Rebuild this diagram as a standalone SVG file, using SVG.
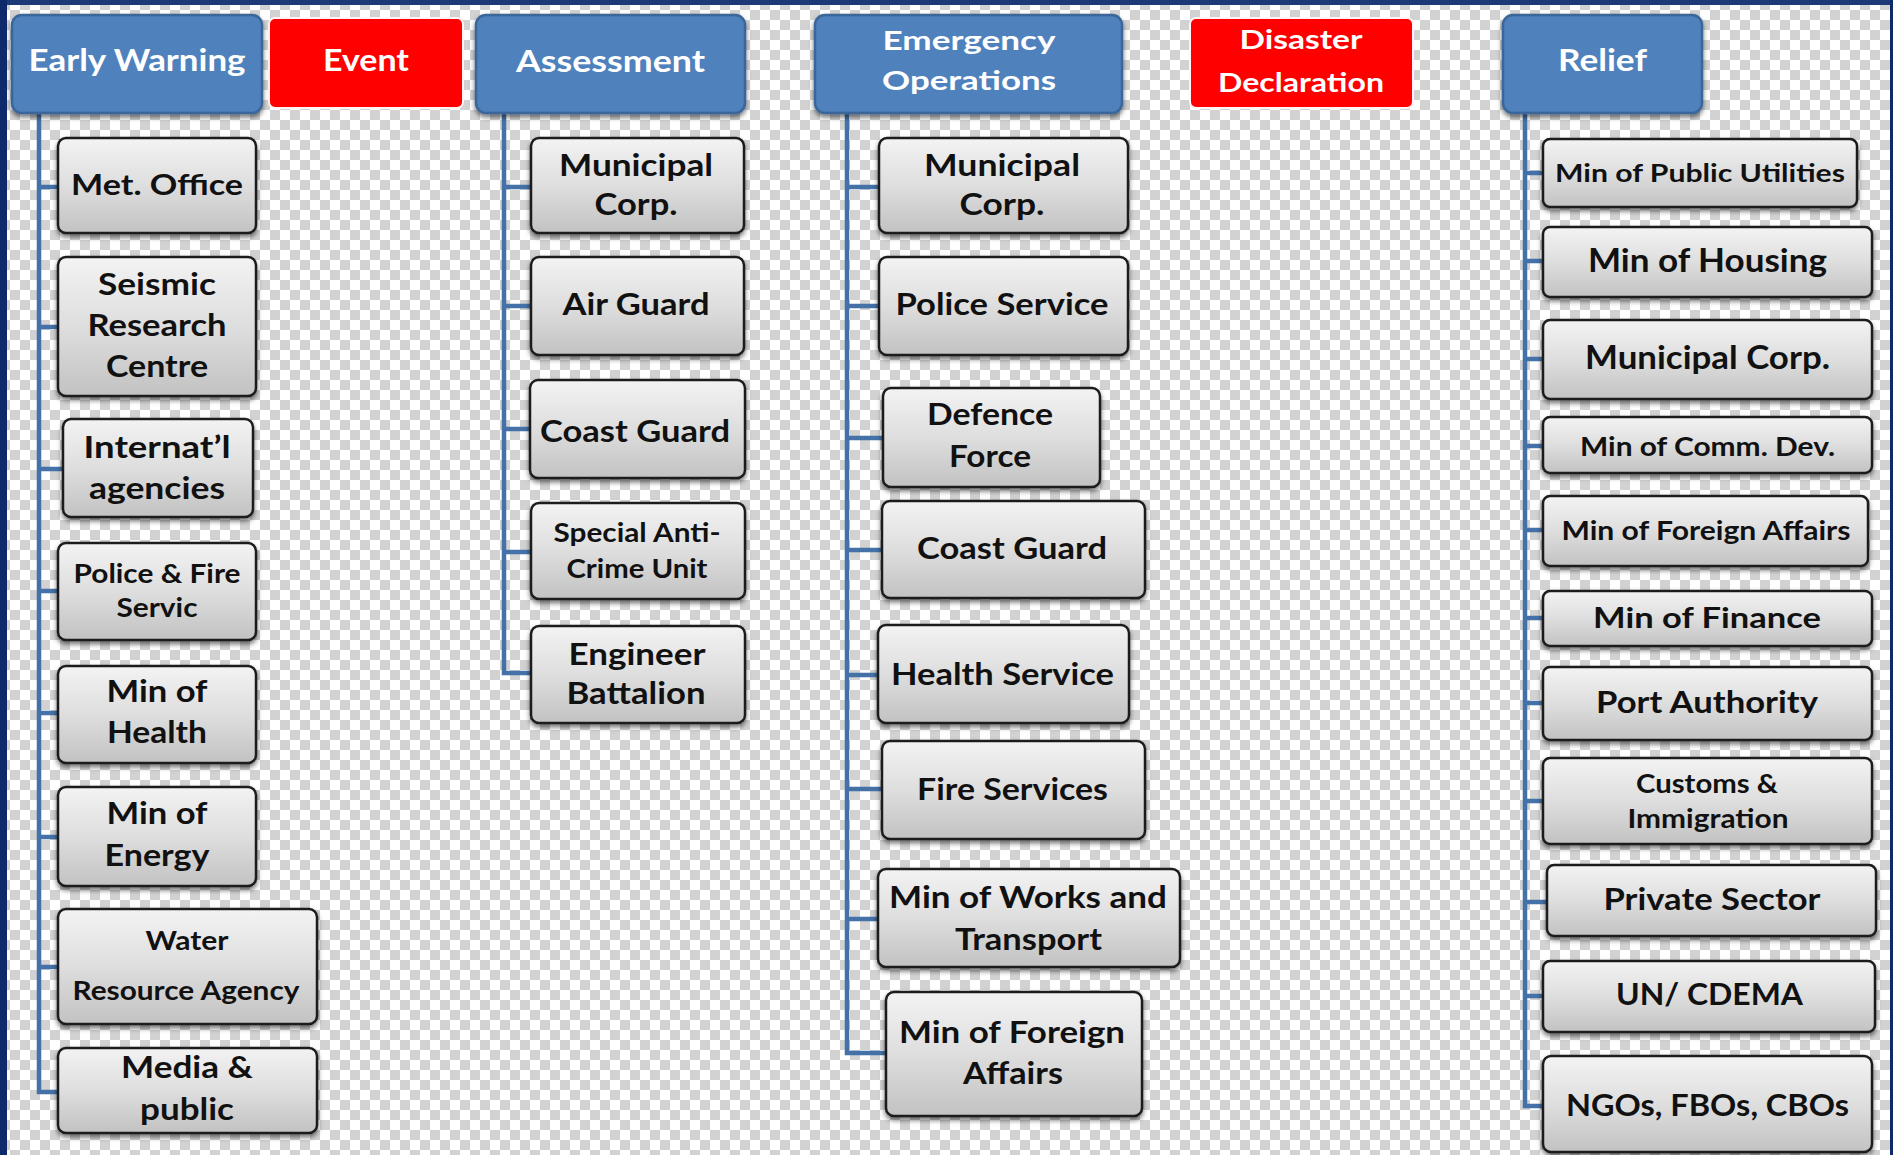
<svg xmlns="http://www.w3.org/2000/svg" width="1893" height="1155" viewBox="0 0 1893 1155">
<defs>
<pattern id="chk" width="20" height="20" patternUnits="userSpaceOnUse">
<rect width="20" height="20" fill="#ffffff"/>
<rect width="10" height="10" fill="#d2d2d2"/>
<rect x="10" y="10" width="10" height="10" fill="#d2d2d2"/>
</pattern>
<linearGradient id="g" x1="0" y1="0" x2="0" y2="1">
<stop offset="0" stop-color="#f3f3f3"/>
<stop offset="0.5" stop-color="#dedede"/>
<stop offset="1" stop-color="#c2c2c2"/>
</linearGradient>
<filter id="sh" x="-10%" y="-10%" width="120%" height="130%">
<feDropShadow dx="0" dy="3" stdDeviation="2.5" flood-color="#000" flood-opacity="0.55"/>
</filter>
</defs>
<style>
text{font-family:Lato,"Liberation Sans",sans-serif;text-anchor:middle;font-weight:700}
.hdr rect{fill:#4f81bd;stroke:#3a6699;stroke-width:2.5;filter:url(#sh)}
.hdr text{fill:#ffffff}
.red rect{fill:#ff0000;stroke:#fff3f3;stroke-width:2}
.red text{fill:#ffffff}
.node rect{fill:url(#g);stroke:#1e1e1e;stroke-width:2.5;filter:url(#sh)}
.node text{fill:#111111}
.conn path{fill:none;stroke:#4472a8;stroke-width:4.5}
</style>
<rect width="1893" height="1155" fill="url(#chk)"/>
<rect x="0" y="0" width="1893" height="5" fill="#1c3a77"/>
<rect x="0" y="0" width="7" height="1155" fill="#0e2a6b"/>
<rect x="1890" y="0" width="3" height="1155" fill="#0e2a6b"/>

<g id="connectors" class="conn">
<path d="M39,113 V1092 H58"/>
<path d="M39,187 H58 M39,327 H58 M39,469 H63 M39,591 H58 M39,713 H58 M39,837 H58 M39,967 H58"/>
<path d="M504,113 V673 H531"/>
<path d="M504,187 H531 M504,306 H531 M504,429 H530 M504,552 H531"/>
<path d="M847,113 V1053 H886"/>
<path d="M847,187 H879 M847,306 H879 M847,438 H883 M847,550 H882 M847,675 H878 M847,789 H882 M847,919 H878"/>
<path d="M1525,113 V1106 H1543"/>
<path d="M1525,173 H1543 M1525,261 H1543 M1525,359 H1543 M1525,446 H1543 M1525,530 H1543 M1525,618 H1543 M1525,703 H1543 M1525,801 H1543 M1525,902 H1547 M1525,996 H1543"/>
</g>

<g id="h_early" class="hdr"><rect x="12" y="15" width="250" height="98" rx="10"/><text x="137" y="71" font-size="30" textLength="217" lengthAdjust="spacingAndGlyphs">Early Warning</text></g>
<g id="h_event" class="red"><rect x="269" y="18" width="194" height="90" rx="6"/><text x="366" y="71" font-size="30" textLength="86" lengthAdjust="spacingAndGlyphs">Event</text></g>
<g id="h_assess" class="hdr"><rect x="476" y="15" width="269" height="98" rx="10"/><text x="610.5" y="72" font-size="30" textLength="189" lengthAdjust="spacingAndGlyphs">Assessment</text></g>
<g id="h_emerg" class="hdr"><rect x="815" y="15" width="307" height="98" rx="10"/><text x="969" y="50" font-size="26" textLength="173" lengthAdjust="spacingAndGlyphs">Emergency</text><text x="969" y="90" font-size="26" textLength="174" lengthAdjust="spacingAndGlyphs">Operations</text></g>
<g id="h_disaster" class="red"><rect x="1190" y="18" width="223" height="90" rx="6"/><text x="1301" y="49" font-size="27" textLength="123" lengthAdjust="spacingAndGlyphs">Disaster</text><text x="1301" y="92" font-size="27" textLength="166" lengthAdjust="spacingAndGlyphs">Declaration</text></g>
<g id="h_relief" class="hdr"><rect x="1503" y="15" width="199" height="98" rx="10"/><text x="1602.5" y="71" font-size="31" textLength="89" lengthAdjust="spacingAndGlyphs">Relief</text></g>

<g id="n_met" class="node"><rect x="58" y="138" width="198" height="95" rx="8"/><text x="157" y="195" font-size="28" textLength="172" lengthAdjust="spacingAndGlyphs">Met. Office</text></g>
<g id="n_seismic" class="node"><rect x="58" y="257" width="198" height="139" rx="8"/><text x="157" y="295" font-size="31" textLength="118" lengthAdjust="spacingAndGlyphs">Seismic</text><text x="157" y="336" font-size="31" textLength="139" lengthAdjust="spacingAndGlyphs">Research</text><text x="157" y="377" font-size="31" textLength="102" lengthAdjust="spacingAndGlyphs">Centre</text></g>
<g id="n_intl" class="node"><rect x="63" y="419" width="190" height="98" rx="8"/><text x="157" y="458" font-size="30" textLength="147" lengthAdjust="spacingAndGlyphs">Internat’l</text><text x="157" y="499" font-size="30" textLength="136" lengthAdjust="spacingAndGlyphs">agencies</text></g>
<g id="n_policefire" class="node"><rect x="58" y="543" width="198" height="97" rx="8"/><text x="157" y="583" font-size="26" textLength="167" lengthAdjust="spacingAndGlyphs">Police &amp; Fire</text><text x="157" y="617" font-size="26" textLength="81" lengthAdjust="spacingAndGlyphs">Servic</text></g>
<g id="n_health" class="node"><rect x="58" y="666" width="198" height="97" rx="8"/><text x="157" y="702" font-size="30" textLength="101" lengthAdjust="spacingAndGlyphs">Min of</text><text x="157" y="743" font-size="30" textLength="100" lengthAdjust="spacingAndGlyphs">Health</text></g>
<g id="n_energy" class="node"><rect x="58" y="787" width="198" height="99" rx="8"/><text x="157" y="824" font-size="30" textLength="101" lengthAdjust="spacingAndGlyphs">Min of</text><text x="157" y="866" font-size="30" textLength="105" lengthAdjust="spacingAndGlyphs">Energy</text></g>
<g id="n_water" class="node"><rect x="58" y="909" width="259" height="115" rx="8"/><text x="187" y="950" font-size="26" textLength="83" lengthAdjust="spacingAndGlyphs">Water</text><text x="186" y="1000" font-size="26" textLength="227" lengthAdjust="spacingAndGlyphs">Resource Agency</text></g>
<g id="n_media" class="node"><rect x="58" y="1048" width="259" height="85" rx="8"/><text x="187" y="1078" font-size="30" textLength="132" lengthAdjust="spacingAndGlyphs">Media &amp;</text><text x="187" y="1120" font-size="30" textLength="94" lengthAdjust="spacingAndGlyphs">public</text></g>

<g id="a_muni" class="node"><rect x="531" y="138" width="213" height="95" rx="8"/><text x="636" y="176" font-size="31" textLength="154" lengthAdjust="spacingAndGlyphs">Municipal</text><text x="636" y="215" font-size="31" textLength="83" lengthAdjust="spacingAndGlyphs">Corp.</text></g>
<g id="a_air" class="node"><rect x="531" y="257" width="213" height="98" rx="8"/><text x="636" y="315" font-size="30" textLength="147" lengthAdjust="spacingAndGlyphs">Air Guard</text></g>
<g id="a_coast" class="node"><rect x="530" y="380" width="215" height="98" rx="8"/><text x="635" y="442" font-size="31" textLength="190" lengthAdjust="spacingAndGlyphs">Coast Guard</text></g>
<g id="a_special" class="node"><rect x="531" y="503" width="214" height="96" rx="8"/><text x="637" y="542" font-size="26" textLength="167" lengthAdjust="spacingAndGlyphs">Special Anti-</text><text x="637" y="578" font-size="26" textLength="141" lengthAdjust="spacingAndGlyphs">Crime Unit</text></g>
<g id="a_eng" class="node"><rect x="531" y="626" width="214" height="97" rx="8"/><text x="637" y="665" font-size="30" textLength="137" lengthAdjust="spacingAndGlyphs">Engineer</text><text x="636" y="704" font-size="30" textLength="139" lengthAdjust="spacingAndGlyphs">Battalion</text></g>

<g id="e_muni" class="node"><rect x="879" y="138" width="249" height="95" rx="8"/><text x="1002" y="176" font-size="31" textLength="156" lengthAdjust="spacingAndGlyphs">Municipal</text><text x="1002" y="215" font-size="31" textLength="85" lengthAdjust="spacingAndGlyphs">Corp.</text></g>
<g id="e_police" class="node"><rect x="879" y="257" width="249" height="98" rx="8"/><text x="1002" y="315" font-size="30" textLength="213" lengthAdjust="spacingAndGlyphs">Police Service</text></g>
<g id="e_defence" class="node"><rect x="883" y="388" width="217" height="99" rx="8"/><text x="990" y="425" font-size="30" textLength="126" lengthAdjust="spacingAndGlyphs">Defence</text><text x="990" y="467" font-size="30" textLength="82" lengthAdjust="spacingAndGlyphs">Force</text></g>
<g id="e_coast" class="node"><rect x="882" y="501" width="263" height="97" rx="8"/><text x="1012" y="559" font-size="31" textLength="190" lengthAdjust="spacingAndGlyphs">Coast Guard</text></g>
<g id="e_health" class="node"><rect x="878" y="625" width="251" height="98" rx="8"/><text x="1002.5" y="685" font-size="31" textLength="223" lengthAdjust="spacingAndGlyphs">Health Service</text></g>
<g id="e_fire" class="node"><rect x="882" y="741" width="263" height="98" rx="8"/><text x="1012.5" y="800" font-size="31" textLength="191" lengthAdjust="spacingAndGlyphs">Fire Services</text></g>
<g id="e_works" class="node"><rect x="878" y="869" width="302" height="98" rx="8"/><text x="1028" y="908" font-size="30" textLength="278" lengthAdjust="spacingAndGlyphs">Min of Works and</text><text x="1028.5" y="950" font-size="30" textLength="147" lengthAdjust="spacingAndGlyphs">Transport</text></g>
<g id="e_foreign" class="node"><rect x="886" y="992" width="256" height="124" rx="8"/><text x="1012" y="1043" font-size="30" textLength="226" lengthAdjust="spacingAndGlyphs">Min of Foreign</text><text x="1013" y="1084" font-size="30" textLength="100" lengthAdjust="spacingAndGlyphs">Affairs</text></g>

<g id="r_utilities" class="node"><rect x="1543" y="139" width="314" height="68" rx="7"/><text x="1700" y="182" font-size="25" textLength="290" lengthAdjust="spacingAndGlyphs">Min of Public Utilities</text></g>
<g id="r_housing" class="node"><rect x="1543" y="227" width="329" height="70" rx="7"/><text x="1707.5" y="272" font-size="33" textLength="239" lengthAdjust="spacingAndGlyphs">Min of Housing</text></g>
<g id="r_muni" class="node"><rect x="1543" y="320" width="329" height="79" rx="7"/><text x="1707.5" y="369" font-size="32" textLength="245" lengthAdjust="spacingAndGlyphs">Municipal Corp.</text></g>
<g id="r_comm" class="node"><rect x="1543" y="417" width="329" height="56" rx="7"/><text x="1707.5" y="456" font-size="27" textLength="255" lengthAdjust="spacingAndGlyphs">Min of Comm. Dev.</text></g>
<g id="r_foreign" class="node"><rect x="1543" y="496" width="325" height="70" rx="7"/><text x="1706" y="540" font-size="27" textLength="289" lengthAdjust="spacingAndGlyphs">Min of Foreign Affairs</text></g>
<g id="r_finance" class="node"><rect x="1543" y="591" width="329" height="55" rx="7"/><text x="1707" y="628" font-size="28" textLength="228" lengthAdjust="spacingAndGlyphs">Min of Finance</text></g>
<g id="r_port" class="node"><rect x="1543" y="667" width="329" height="73" rx="7"/><text x="1707" y="713" font-size="31" textLength="222" lengthAdjust="spacingAndGlyphs">Port Authority</text></g>
<g id="r_customs" class="node"><rect x="1543" y="758" width="329" height="86" rx="7"/><text x="1707" y="793" font-size="26" textLength="142" lengthAdjust="spacingAndGlyphs">Customs &amp;</text><text x="1708" y="828" font-size="26" textLength="161" lengthAdjust="spacingAndGlyphs">Immigration</text></g>
<g id="r_private" class="node"><rect x="1547" y="865" width="329" height="71" rx="7"/><text x="1712" y="910" font-size="31" textLength="217" lengthAdjust="spacingAndGlyphs">Private Sector</text></g>
<g id="r_un" class="node"><rect x="1543" y="961" width="332" height="71" rx="7"/><text x="1709.5" y="1005" font-size="31" textLength="187" lengthAdjust="spacingAndGlyphs">UN/ CDEMA</text></g>
<g id="r_ngo" class="node"><rect x="1543" y="1056" width="329" height="96" rx="8"/><text x="1707.5" y="1116" font-size="31" textLength="283" lengthAdjust="spacingAndGlyphs">NGOs, FBOs, CBOs</text></g>
</svg>
